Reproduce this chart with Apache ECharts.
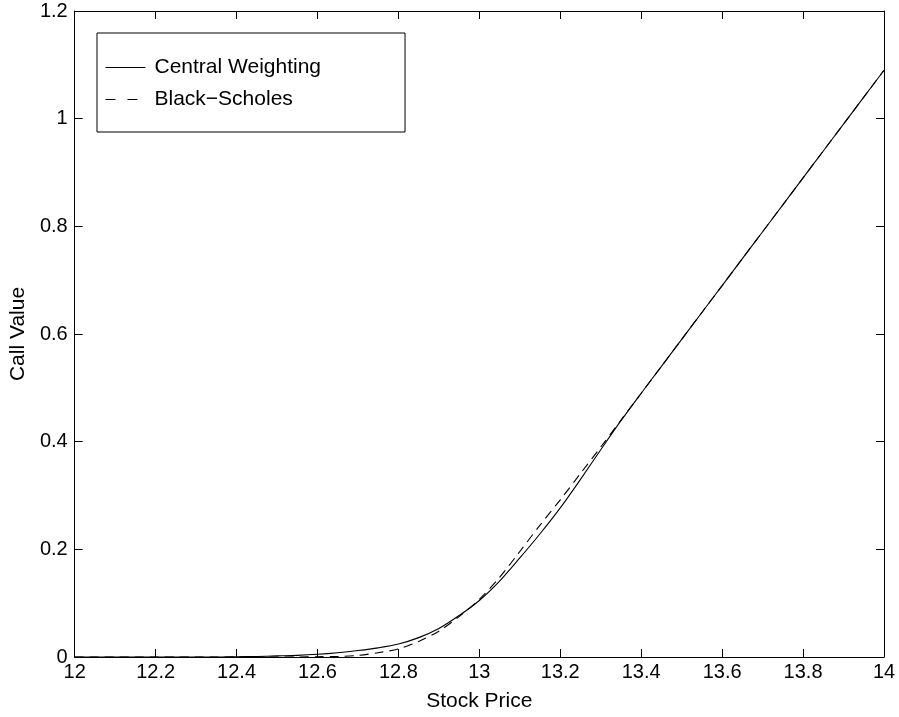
<!DOCTYPE html>
<html>
<head>
<meta charset="utf-8">
<script src="https://cdn.jsdelivr.net/npm/echarts@6/dist/echarts.min.js"></script>
<style>html,body{margin:0;padding:0;background:#fff}#c{width:899px;height:717px}</style>
</head>
<body>
<div id="c"></div>
<script>
var stockPrice = [12, 12.05, 12.1, 12.15, 12.2, 12.25, 12.3, 12.35, 12.4, 12.45, 12.5, 12.55, 12.6, 12.65, 12.7, 12.75, 12.8, 12.85, 12.9, 12.95,
  13, 13.05, 13.1, 13.15, 13.2, 13.25, 13.3, 13.35, 13.4, 13.45, 13.5, 13.55, 13.6, 13.65, 13.7, 13.75, 13.8, 13.85, 13.9, 13.95, 14];
var centralWeighting = [0, 0, 0, 0, 0, 0, 0, 0, 0.0005, 0.001, 0.002, 0.003, 0.005, 0.008, 0.012, 0.017, 0.024, 0.036, 0.053, 0.077,
  0.105, 0.141, 0.184, 0.229, 0.277, 0.330, 0.385, 0.439, 0.490, 0.540, 0.590, 0.640, 0.690, 0.740, 0.790, 0.840, 0.890, 0.940, 0.990, 1.040, 1.090];
var blackScholes = [0, 0, 0, 0, 0, 0, 0, 0, 0, 0, 0, 0, 0.0005, 0.001, 0.003, 0.008, 0.015, 0.029, 0.048, 0.075,
  0.107, 0.148, 0.196, 0.245, 0.292, 0.341, 0.390, 0.440, 0.490, 0.540, 0.590, 0.640, 0.690, 0.740, 0.790, 0.840, 0.890, 0.940, 0.990, 1.040, 1.090];
var seriesNames = ['Central Weighting', 'Black\u2212Scholes'];
var xTitle = 'Stock Price';
var yTitle = 'Call Value';

function pairs(xs, ys) { return xs.map(function (x, i) { return [x, ys[i]]; }); }

var font = 'Liberation Sans, Arial, Helvetica, sans-serif';
function axisCommon(extra) {
  var base = {
    axisLine: { show: true, onZero: false, lineStyle: { color: '#000', width: 1 } },
    axisTick: { show: true, inside: true, length: 8, lineStyle: { color: '#000', width: 1 } },
    splitLine: { show: false }
  };
  return Object.assign(base, extra);
}
function fmt(v) { return String(Math.round(v * 10) / 10); }

var chart = echarts.init(document.getElementById('c'), null, { renderer: 'canvas' });
chart.setOption({
  backgroundColor: '#fff',
  animation: false,
  grid: { left: 72, right: 15, top: 11, bottom: 60 },
  legend: {
    show: true,
    left: 97, top: 33,
    orient: 'vertical',
    backgroundColor: '#fff',
    borderColor: '#000', borderWidth: 1,
    padding: [24, 84, 22, 8],
    itemGap: 11,
    itemWidth: 40, itemHeight: 22,
    itemStyle: { opacity: 0 },
    lineStyle: { width: 1 },
    textStyle: { fontFamily: font, fontSize: 21, color: '#000', padding: [0, 0, 0, 4] },
    data: [
      { name: seriesNames[0] },
      { name: seriesNames[1], lineStyle: { type: [10, 12] } }
    ]
  },
  xAxis: [
    axisCommon({
      type: 'value', min: 12, max: 14, interval: 0.2, position: 'bottom',
      name: xTitle, nameLocation: 'middle', nameGap: 34,
      nameTextStyle: { fontFamily: font, fontSize: 21, color: '#000' },
      axisLabel: { fontFamily: font, fontSize: 20, color: '#000', margin: 5, formatter: fmt }
    }),
    axisCommon({
      type: 'value', min: 12, max: 14, interval: 0.2, position: 'top',
      axisLabel: { show: false }
    })
  ],
  yAxis: [
    axisCommon({
      type: 'value', min: 0, max: 1.2, interval: 0.2, position: 'left',
      name: yTitle, nameLocation: 'middle', nameGap: 38, nameRotate: 90,
      nameTextStyle: { fontFamily: font, fontSize: 21, color: '#000' },
      axisLabel: { fontFamily: font, fontSize: 20, color: '#000', margin: 7, formatter: fmt }
    }),
    axisCommon({
      type: 'value', min: 0, max: 1.2, interval: 0.2, position: 'right',
      axisLabel: { show: false }
    })
  ],
  series: [
    {
      name: seriesNames[0], type: 'line', symbol: 'none', showSymbol: false, smooth: 0.3,
      xAxisIndex: 0, yAxisIndex: 0,
      data: pairs(stockPrice, centralWeighting),
      lineStyle: { color: '#000', width: 1.1, type: 'solid' },
      itemStyle: { color: '#000' }
    },
    {
      name: seriesNames[1], type: 'line', symbol: 'none', showSymbol: false, smooth: 0.3,
      xAxisIndex: 0, yAxisIndex: 0,
      data: pairs(stockPrice, blackScholes),
      lineStyle: { color: '#000', width: 1.1, type: [9, 6] },
      itemStyle: { color: '#000' }
    }
  ]
});
</script>
</body>
</html>
